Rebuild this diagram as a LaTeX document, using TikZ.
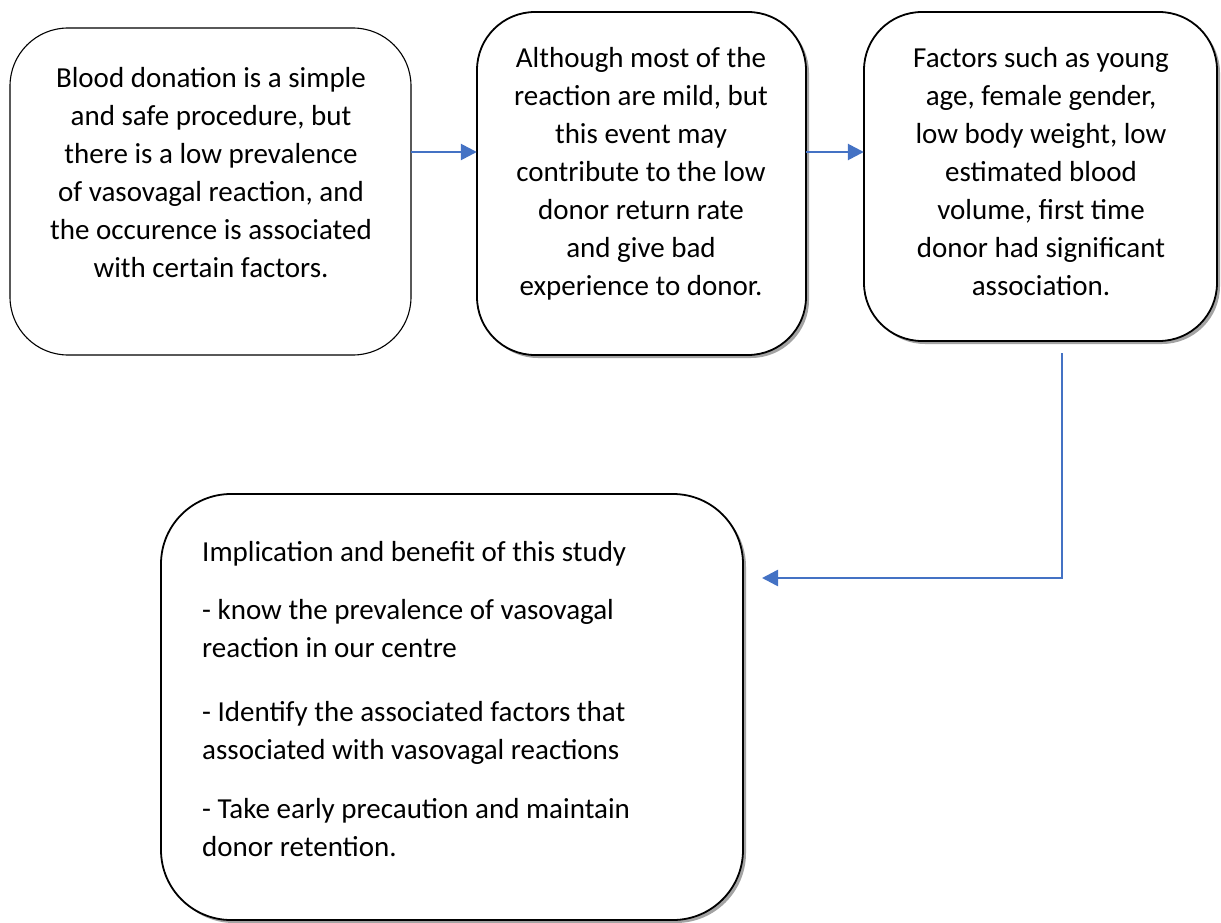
\documentclass[tikz,border=0pt]{standalone}
\usepackage{fontspec}
\setmainfont{Carlito}
\usetikzlibrary{arrows.meta,shadows,calc}
\definecolor{arrblue}{RGB}{68,114,196}
\tikzset{
  box/.style={draw=black, rounded corners=58pt, fill=white, inner sep=0pt},
  sbox/.style={box, line width=1.8pt, drop shadow={shadow xshift=3pt, shadow yshift=-3pt, fill=black!45, opacity=0.8}},
  txt/.style={inner sep=0pt, align=center, font=\fontsize{29}{38}\selectfont},
  ltxt/.style={inner sep=0pt, align=left, font=\fontsize{29}{38}\selectfont},
  arr/.style={draw=arrblue, line width=2.6pt, -{Triangle[length=16pt,width=16pt]}}
}
\begin{document}
\begin{tikzpicture}[x=1pt,y=-1pt]
\useasboundingbox (0,0) rectangle (1221,923);
\path[box, line width=1.1pt] (10,28) rectangle (411,355);
\node[inner sep=0pt, minimum width=401pt, minimum height=327pt] (b1) at (210.5,191.5) {};
\path[sbox] (477,12) rectangle (806,355);
\node[inner sep=0pt, minimum width=329pt, minimum height=343pt] (b2) at (641.5,183.5) {};
\path[sbox] (864,12) rectangle (1217,341);
\node[inner sep=0pt, minimum width=353pt, minimum height=329pt] (b3) at (1040.5,176.5) {};
\path[sbox, rounded corners=70pt] (161,494) rectangle (743,920);
\node[inner sep=0pt, minimum width=582pt, minimum height=426pt] (b4) at (452,707) {};

\node[txt, anchor=north] (t1) at (211,67) {Blood donation is a simple\\and safe procedure, but\\there is a low prevalence\\of vasovagal reaction, and\\the occurence is associated\\with certain factors.};
\node[txt, anchor=north] (t2) at (641,47) {Although most of the\\reaction are mild, but\\this event may\\contribute to the low\\donor return rate\\and give bad\\experience to donor.};
\node[txt, anchor=north] (t3) at (1041,47) {Factors such as young\\age, female gender,\\low body weight, low\\estimated blood\\volume, first time\\donor had significant\\association.};
\node[ltxt, anchor=north west] (t4a) at (202,541) {Implication and benefit of this study};
\node[ltxt, anchor=north west] (t4b) at (202,599) {- know the prevalence of vasovagal\\reaction in our centre};
\node[ltxt, anchor=north west] (t4c) at (202,701) {- Identify the associated factors that\\associated with vasovagal reactions};
\node[ltxt, anchor=north west] (t4d) at (202,798) {- Take early precaution and maintain\\donor retention.};

\coordinate (y1) at (0,152);
\draw[arr] (b1.east |- y1) -- (b2.west |- y1);
\draw[arr] (b2.east |- y1) -- (b3.west |- y1);
\coordinate (c3s) at (1062,353);
\coordinate (c4e) at (762,578);
\draw[arr] (c3s) -- (c3s |- c4e) -- (c4e);
\end{tikzpicture}
\end{document}
